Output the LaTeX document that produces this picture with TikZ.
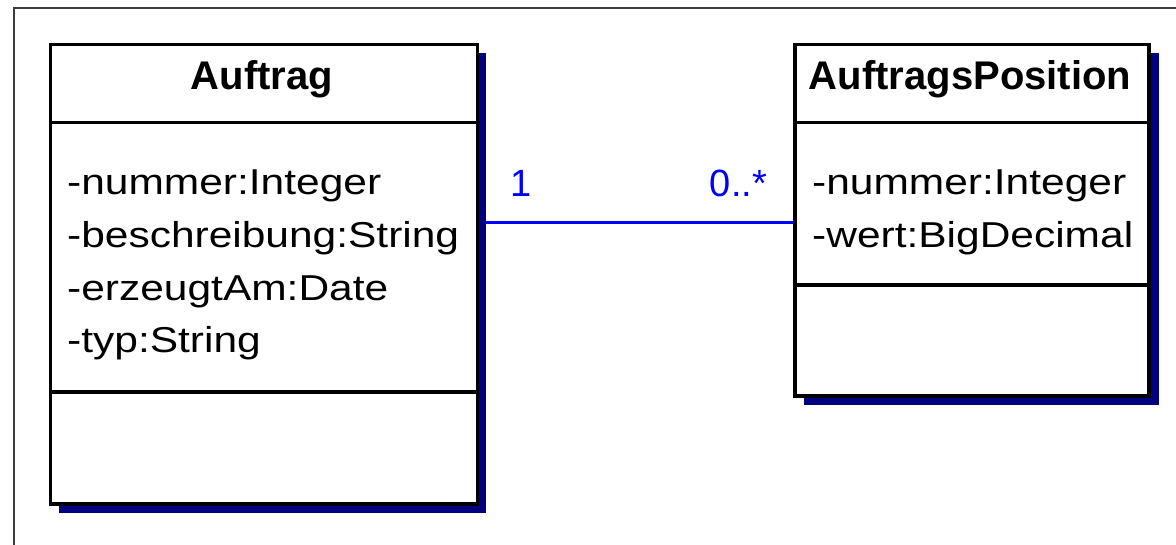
\documentclass[tikz,border=0pt]{standalone}
\usepackage{fontspec}
\setmainfont{Liberation Sans}
\newfontfamily\attrfont[FakeStretch=1.18]{Liberation Sans}
\definecolor{shadowblue}{RGB}{0,0,128}
\definecolor{linkblue}{RGB}{0,0,255}
\definecolor{framegray}{RGB}{60,60,60}
\tikzset{
  classbox/.style={draw=black, line width=3.2pt, fill=white, rectangle, inner sep=0pt, outer sep=0pt},
  shadowfill/.style={fill=shadowblue, draw=none},
  divider/.style={draw=black, line width=3.2pt},
  titletext/.style={font=\bfseries\fontsize{40}{40}\selectfont, inner sep=0pt, anchor=base},
  attrtext/.style={font=\attrfont\fontsize{36}{36}\selectfont, inner sep=0pt, anchor=base west},
  multtext/.style={font=\fontsize{38}{38}\selectfont, text=linkblue, inner sep=0pt, anchor=base},
  assoc/.style={draw=linkblue, line width=3pt},
  frameline/.style={draw=framegray, line width=2pt}
}
\begin{document}
\begin{tikzpicture}[x=1pt,y=-1pt]
\useasboundingbox (0,0) rectangle (1176,545);
\fill[white] (0,0) rectangle (1176,545);
% window frame
\coordinate (fTL) at (14,8);
\coordinate (fTR) at (1176,8);
\coordinate (fBL) at (14,545);
\draw[frameline] (fTR) -- (fTL) -- (fBL);

% class box placeholders (for anchors)
\path (264,274.25) node[minimum width=427pt, minimum height=459.5pt, inner sep=0pt, outer sep=0pt] (auftrag) {};
\path (972,220.25) node[minimum width=354pt, minimum height=351.5pt, inner sep=0pt, outer sep=0pt] (position) {};

% association
\draw[assoc] (auftrag.east |- 0,223) -- (position.west |- 0,223);

% shadows
\fill[shadowfill] ([shift={(8.5,8.5)}]auftrag.north west) rectangle ([shift={(8,8.5)}]auftrag.south east);
\fill[shadowfill] ([shift={(8.5,8.5)}]position.north west) rectangle ([shift={(10,9)}]position.south east);

% boxes
\draw[classbox] (auftrag.north west) rectangle (auftrag.south east);
\draw[classbox] (position.north west) rectangle (position.south east);

% dividers
\draw[divider] (auftrag.west |- 0,122.5) -- (auftrag.east |- 0,122.5);
\draw[divider] (auftrag.west |- 0,392) -- (auftrag.east |- 0,392);
\draw[divider] (position.west |- 0,122.5) -- (position.east |- 0,122.5);
\draw[divider] (position.west |- 0,285) -- (position.east |- 0,285);

% titles
\node[titletext] (t1) at (262,90) {Auftrag};
\node[titletext] (t2) at (970,90) {AuftragsPosition};

% attributes
\node[attrtext] (a1) at (67,195) {-nummer:Integer};
\node[attrtext] (a2) at (67,248) {-beschreibung:String};
\node[attrtext] (a3) at (67,300.5) {-erzeugtAm:Date};
\node[attrtext] (a4) at (67,353) {-typ:String};
\node[attrtext] (b1) at (812,195) {-nummer:Integer};
\node[attrtext] (b2) at (812,248) {-wert:BigDecimal};

% multiplicities
\node[multtext] (m1) at (521,197) {1};
\node[multtext] (m2) at (738.5,197) {0..*};
\end{tikzpicture}
\end{document}
